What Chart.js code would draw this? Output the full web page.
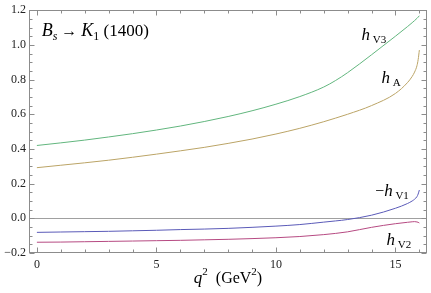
<!DOCTYPE html>
<html><head><meta charset="utf-8">
<script src="https://cdn.jsdelivr.net/npm/chart.js@4/dist/chart.umd.min.js"></script>
<style>html,body{margin:0;padding:0;background:#fff}#wrap{width:431px;height:293px;position:relative}</style>
</head><body><div id="wrap"><canvas id="c"></canvas></div>
<script>
// q^2 sample points (GeV^2)
const q2 = [0,1,2,3,4,5,6,7,8,9,10,11,12,12.5,13,14,15,15.5,15.7,15.8,15.9,15.95,16];
const hV3 = [0.420,0.435,0.451,0.469,0.488,0.509,0.532,0.558,0.587,0.620,0.658,0.702,0.757,0.795,0.840,0.943,1.050,1.105,1.128,1.140,1.153,1.160,1.168];
const hA  = [0.292,0.306,0.320,0.335,0.352,0.370,0.389,0.409,0.432,0.457,0.486,0.519,0.557,0.578,0.600,0.650,0.720,0.782,0.818,0.843,0.880,0.915,0.970];
const mhV1 = [-0.081,-0.079,-0.077,-0.075,-0.072,-0.069,-0.065,-0.062,-0.058,-0.052,-0.045,-0.036,-0.022,-0.015,-0.007,0.018,0.058,0.085,0.100,0.110,0.125,0.140,0.163];
const hV2 = [-0.138,-0.137,-0.135,-0.133,-0.131,-0.129,-0.127,-0.124,-0.121,-0.117,-0.112,-0.105,-0.094,-0.087,-0.078,-0.052,-0.031,-0.023,-0.020,-0.019,-0.021,-0.023,-0.027];
const xTicks = [0,5,10,15];
const yTicks = [-0.2,0,0.2,0.4,0.6,0.8,1.0,1.2];

const SERIF = '"Liberation Serif", "DejaVu Serif", serif';
function pts(ys){ return q2.map((x,i)=>({x:x,y:ys[i]})); }
function ds(ys,color){ return {data:pts(ys),borderColor:color,borderWidth:1,pointRadius:0,fill:false,cubicInterpolationMode:'monotone'}; }

function drawRich(ctx, x, y, parts){
  let cx = x;
  for(const p of parts){
    ctx.font = (p[1]==='i'?'italic ':'') + p[2] + 'px ' + SERIF;
    ctx.fillText(p[0], cx, y + (p[3]||0));
    cx += ctx.measureText(p[0]).width;
  }
  return cx;
}

const labels = [
  {x:13.58, y:1.03,  parts:[['h','i',17],[' V3','n',11,3]]},
  {x:14.42, y:0.78,  parts:[['h','i',17],[' A','n',11,3]]},
  {x:14.15, y:0.129, parts:[['\u2212','n',16],['h','i',17],[' V1','n',11,3]]},
  {x:14.63, y:-0.155,parts:[['h','i',17],[' V2','n',11,3]]},
  {x:0.2,   y:1.053, parts:[['B','i',18],['s','i',12,4],[' \u2192 ','n',16],['K','i',18],['1','n',12,4],[' (1400)','n',17]]}
];

const framePlugin = {
  id:'frame',
  beforeDatasetsDraw(chart){
    const {ctx, chartArea:a, scales:{x,y}} = chart;
    ctx.save();
    ctx.strokeStyle = '#a0a0a0'; ctx.lineWidth = 1;
    const y0 = Math.round(y.getPixelForValue(0)) + 0.5;
    ctx.beginPath(); ctx.moveTo(a.left, y0); ctx.lineTo(a.right, y0); ctx.stroke();
    ctx.restore();
  },
  afterDraw(chart){
    const {ctx, chartArea:a, scales:{x,y}} = chart;
    ctx.save();
    ctx.strokeStyle = '#8c8c8c'; ctx.lineWidth = 1;
    const L = Math.round(a.left)+0.5, R = Math.round(a.right)-0.5, T = Math.round(a.top)+0.5, B = Math.round(a.bottom)-0.5;
    ctx.strokeRect(L, T, R-L, B-T);
    ctx.beginPath();
    for(let k=-4;k<=24;k++){
      const v = k*0.05; if(v < -0.2-1e-9 || v > 1.2+1e-9) continue;
      const major = Math.abs(k%4)===0;
      const len = major?5:3;
      const py = Math.round(y.getPixelForValue(v))+0.5;
      ctx.moveTo(L,py); ctx.lineTo(L+len,py);
      ctx.moveTo(R,py); ctx.lineTo(R-len,py);
    }
    for(let k=0;k<=16;k++){
      const major = k%5===0;
      const len = major?5:3;
      const px = Math.round(x.getPixelForValue(k))+0.5;
      ctx.moveTo(px,B); ctx.lineTo(px,B-len);
      ctx.moveTo(px,T); ctx.lineTo(px,T+len);
    }
    ctx.stroke();
    ctx.fillStyle = '#000'; ctx.textBaseline='alphabetic'; ctx.textAlign='left';
    for(const l of labels){
      drawRich(ctx, x.getPixelForValue(l.x), y.getPixelForValue(l.y), l.parts);
    }
    const parts = [['q','i',17],['2','n',11,-8],['  (GeV','n',16],['2','n',11,-8],[')','n',16]];
    let w = 0;
    for(const p of parts){ ctx.font=(p[1]==='i'?'italic ':'')+p[2]+'px '+SERIF; w += ctx.measureText(p[0]).width; }
    drawRich(ctx, (a.left+a.right)/2 - w/2, 283, parts);
    ctx.restore();
  }
};

new Chart(document.getElementById('c'), {
  type:'line',
  data:{datasets:[ds(hV3,'#62b67e'), ds(hA,'#bba466'), ds(mhV1,'#5a5ab8'), ds(hV2,'#b64a82')]},
  options:{
    responsive:true, maintainAspectRatio:false, animation:false,
    layout:{padding:{top:6,right:4,left:0,bottom:0}},
    plugins:{legend:{display:false},tooltip:{enabled:false}},
    scales:{
      x:{type:'linear', min:-0.33, max:16.32,
         grid:{display:false, drawTicks:false}, border:{display:false},
         afterBuildTicks(s){ s.ticks = xTicks.map(v=>({value:v})); },
         afterFit(s){ s.height = 40; },
         ticks:{padding:5, color:'#222', font:{family:SERIF,size:12}, maxRotation:0, autoSkip:false, callback:v=>String(v)}},
      y:{type:'linear', min:-0.2, max:1.2,
         grid:{display:false, drawTicks:false}, border:{display:false},
         afterBuildTicks(s){ s.ticks = yTicks.map(v=>({value:v})); },
         afterFit(s){ s.width = 29; },
         ticks:{padding:3, color:'#222', font:{family:SERIF,size:12}, autoSkip:false,
                callback:v=>(Math.abs(v)<1e-9?'0.0':Number(v).toFixed(1).replace('-','\u2212'))}}
    }
  },
  plugins:[framePlugin]
});
</script></body></html>
